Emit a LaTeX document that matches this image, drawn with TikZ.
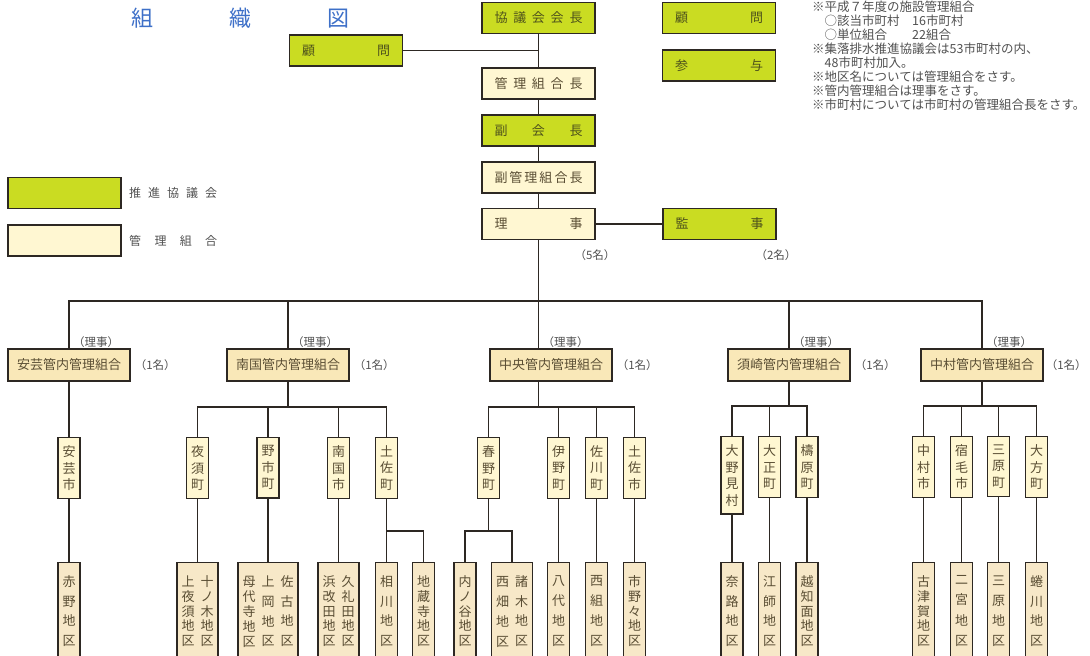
\documentclass[tikz,border=0pt]{standalone}
\usepackage{fontspec}
\setmainfont{Noto Sans CJK JP}
\usepackage{tikz}
\usetikzlibrary{positioning}

\definecolor{kyogreen}{RGB}{202,220,34}
\definecolor{kanricream}{RGB}{255,247,210}
\definecolor{kanritan}{RGB}{249,232,184}
\definecolor{chikutan}{RGB}{247,232,200}
\definecolor{boxline}{RGB}{45,40,35}
\definecolor{boxtext}{RGB}{90,78,52}
\definecolor{greentext}{RGB}{78,82,28}
\definecolor{titleblue}{RGB}{62,112,200}
\definecolor{notegray}{RGB}{80,80,80}

% spread the characters over a fixed width
\def\sprd#1{#1\sprdB}
\def\sprdB#1{\ifx\relax#1\else\hfill#1\expandafter\sprdB\fi}
\newcommand{\spread}[2]{\makebox[#1][s]{\sprd#2\relax}}

% one column of vertical text
\def\tcolA#1{#1\tcolB}
\def\tcolB#1{\ifx\relax#1\else\par\vfill#1\expandafter\tcolB\fi}
\newcommand{\tcol}[1]{\parbox[t][70pt][s]{13pt}{\centering\baselineskip=13pt\lineskip=0pt\lineskiplimit=-20pt\tcolA#1\relax}}

\begin{document}
\begin{tikzpicture}[x=1pt, y=-1pt,
  every node/.style={font=\fontsize{13}{13}\selectfont},
  yaku/.style={draw=boxline, line width=1.3pt, minimum width=113pt, minimum height=31pt, inner sep=0pt},
  kyo/.style={yaku, fill=kyogreen, text=greentext},
  kanri/.style={yaku, fill=kanricream, text=boxtext},
  kannai/.style={draw=boxline, line width=1.3pt, fill=kanritan, text=boxtext, minimum height=32pt, inner xsep=9pt},
  cho/.style={draw=boxline, line width=1.2pt, fill=kanricream, text=boxtext, anchor=north,
    text width=13pt, align=center, inner xsep=4.5pt, inner ysep=8pt, font=\fontsize{13}{16.5}\selectfont},
  chiku/.style={draw=boxline, line width=1.2pt, fill=chikutan, text=boxtext, anchor=north,
    inner xsep=4.5pt, inner ysep=13pt},
  conn/.style={draw=boxline, line width=1.3pt},
  ninzu/.style={text=notegray, font=\fontsize{11.5}{11.5}\selectfont, inner sep=1pt},
  legtext/.style={text=notegray, font=\fontsize{12}{12}\selectfont},
  zutitle/.style={text=titleblue, font=\fontsize{22}{22}\selectfont},
  note/.style={text=notegray, align=left, inner sep=0pt, font=\fontsize{12.5}{14}\selectfont}]
  \useasboundingbox (0,0) rectangle (1090,656);
  \clip (0,0) rectangle (1090,656);

  % --- title, notes, legend ---
  \node[zutitle] (title) at (240,18) {\spread{218pt}{組織図}};
  \node[note, anchor=north west] (notes) at (812,1) {%
    ※平成７年度の施設管理組合\\
    　○該当市町村　16市町村\\
    　○単位組合　　22組合\\
    ※集落排水推進協議会は53市町村の内、\\
    　48市町村加入。\\
    ※地区名については管理組合をさす。\\
    ※管内管理組合は理事をさす。\\
    ※市町村については市町村の管理組合長をさす。};
  \node[kyo] (lgkyo) at (64.5,193) {};
  \node[legtext, right=4pt of lgkyo] (lgkyotxt) {\spread{88pt}{推進協議会}};
  \node[kanri] (lgkanri) at (64.5,240.5) {};
  \node[legtext, right=4pt of lgkanri] (lgkanritxt) {\spread{88pt}{管理組合}};

  % --- council and officers ---
  \node[kyo] (kaicho) at (538.5,18) {\spread{88pt}{協議会会長}};
  \node[kyo] (komonL) at (346,50.5) {\spread{88pt}{顧問}};
  \node[kyo] (komonR) at (719,18) {\spread{88pt}{顧問}};
  \node[kyo] (sanyo) at (719,65.5) {\spread{88pt}{参与}};
  \node[kanri] (kumicho) at (538.5,83.5) {\spread{88pt}{管理組合長}};
  \node[kyo] (fukukai) at (538.5,130.5) {\spread{88pt}{副会長}};
  \node[kanri] (fukukumi) at (538.5,177.5) {\spread{88pt}{副管理組合長}};
  \node[kanri] (riji) at (538.5,224) {\spread{88pt}{理事}};
  \node[kyo] (kanji) at (719.5,224) {\spread{88pt}{監事}};
  \node[ninzu] (rijinin) at (595,255) {（5名）};
  \node[ninzu] (kanjinin) at (776,255) {（2名）};
  \coordinate (bus) at (538.5,301);
  \draw[conn] (kaicho) -- (kumicho) -- (fukukai) -- (fukukumi) -- (riji) -- (bus);
  \draw[conn] (komonL.east) -- (komonL.east -| kaicho.south);
  \draw[conn] (riji.east) -- (kanji.west);

  % --- district unions ---
  \node[kannai] (aki) at (69,365) {安芸管内管理組合};
  \node[kannai] (nankoku) at (288,365) {南国管内管理組合};
  \node[kannai] (chuo) at (551,365) {中央管内管理組合};
  \node[kannai] (susaki) at (789,365) {須崎管内管理組合};
  \node[kannai] (nakamura) at (982,365) {中村管内管理組合};
  \draw[conn] (aki.north) |- (bus) -| (nakamura.north);
  \draw[conn] (nankoku.north) -- (nankoku.north |- bus);
  \draw[conn] (susaki.north) -- (susaki.north |- bus);
  \draw[conn] (bus) -- (bus |- chuo.north);
  \node[ninzu, anchor=south west] (akiriji) at ([xshift=3pt]aki.north) {（理事）};
  \node[ninzu, anchor=south west] (nankokuriji) at ([xshift=3pt]nankoku.north) {（理事）};
  \node[ninzu, anchor=south west] (chuoriji) at ([xshift=3pt]bus |- chuo.north) {（理事）};
  \node[ninzu, anchor=south west] (susakiriji) at ([xshift=3pt]susaki.north) {（理事）};
  \node[ninzu, anchor=south west] (nakamurariji) at ([xshift=3pt]nakamura.north) {（理事）};
  \node[ninzu, anchor=west] (akinin) at ([xshift=3pt]aki.east) {（1名）};
  \node[ninzu, anchor=west] (nankokunin) at ([xshift=3pt]nankoku.east) {（1名）};
  \node[ninzu, anchor=west] (chuonin) at ([xshift=3pt]chuo.east) {（1名）};
  \node[ninzu, anchor=west] (susakinin) at ([xshift=3pt]susaki.east) {（1名）};
  \node[ninzu, anchor=west] (nakamuranin) at ([xshift=1pt]nakamura.east) {（1名）};

  % --- Aki ---
  \node[cho] (akishi) at (69,437) {安\\芸\\市};
  \node[chiku] (akano) at (69,562) {\tcol{赤野地区}};
  \draw[conn] (aki) -- (akishi) -- (akano);

  % --- Nankoku ---
  \coordinate (nkbus) at (288,407);
  \node[cho] (yasu) at (197.5,437) {夜\\須\\町};
  \node[cho] (noichi) at (268,437) {野\\市\\町};
  \node[cho] (nankokushi) at (338.5,437) {南\\国\\市};
  \node[cho] (tosacho) at (386.5,437) {土\\佐\\町};
  \draw[conn] (nankoku) -- (nkbus);
  \draw[conn] (yasu.north) |- (nkbus) -| (tosacho.north);
  \draw[conn] (noichi.north) -- (noichi.north |- nkbus);
  \draw[conn] (nankokushi.north) -- (nankokushi.north |- nkbus);
  \node[chiku] (yasuD) at (197.5,562) {\tcol{上夜須地区}\hspace{6pt}\tcol{十ノ木地区}};
  \node[chiku] (noichiD) at (268,562) {\tcol{母代寺地区}\hspace{6pt}\tcol{上岡地区}\hspace{6pt}\tcol{佐古地区}};
  \node[chiku] (nankokuD) at (338.5,562) {\tcol{浜改田地区}\hspace{6pt}\tcol{久礼田地区}};
  \node[chiku] (aikawa) at (386.5,562) {\tcol{相川地区}};
  \node[chiku] (jizoji) at (423.5,562) {\tcol{地蔵寺地区}};
  \coordinate (tosabr) at (386.5,531);
  \draw[conn] (yasu) -- (yasuD);
  \draw[conn] (noichi) -- (noichiD);
  \draw[conn] (nankokushi) -- (nankokuD);
  \draw[conn] (tosacho) -- (aikawa);
  \draw[conn] (tosabr) -| (jizoji.north);

  % --- Chuo ---
  \coordinate (cbus) at (538.5,407);
  \node[cho] (haruno) at (488.5,437) {春\\野\\町};
  \node[cho] (ino) at (558.5,437) {伊\\野\\町};
  \node[cho] (sakawa) at (596.5,437) {佐\\川\\町};
  \node[cho] (tosashi) at (634.5,437) {土\\佐\\市};
  \draw[conn] (bus |- chuo.south) -- (cbus);
  \draw[conn] (haruno.north) |- (cbus) -| (tosashi.north);
  \draw[conn] (ino.north) -- (ino.north |- cbus);
  \draw[conn] (sakawa.north) -- (sakawa.north |- cbus);
  \coordinate (harubr) at (488.5,531);
  \node[chiku] (uchinotani) at (465,562) {\tcol{内ノ谷地区}};
  \node[chiku] (morogi) at (512,562) {\tcol{西畑地区}\hspace{6pt}\tcol{諸木地区}};
  \node[chiku] (yashiro) at (558.5,562) {\tcol{八代地区}};
  \node[chiku] (nishigumi) at (596.5,562) {\tcol{西組地区}};
  \node[chiku] (ichinono) at (634.5,562) {\tcol{市野々地区}};
  \draw[conn] (haruno) -- (harubr);
  \draw[conn] (uchinotani.north) |- (harubr) -| (morogi.north);
  \draw[conn] (ino) -- (yashiro);
  \draw[conn] (sakawa) -- (nishigumi);
  \draw[conn] (tosashi) -- (ichinono);

  % --- Susaki ---
  \coordinate (sbus) at (789,406);
  \node[cho] (onomi) at (732,436) {大\\野\\見\\村};
  \node[cho] (taisho) at (769.5,436) {大\\正\\町};
  \node[cho] (yusuhara) at (807,436) {檮\\原\\町};
  \draw[conn] (susaki) -- (sbus);
  \draw[conn] (onomi.north) |- (sbus) -| (yusuhara.north);
  \draw[conn] (taisho.north) -- (taisho.north |- sbus);
  \node[chiku] (naro) at (732,562) {\tcol{奈路地区}};
  \node[chiku] (eshi) at (769.5,562) {\tcol{江師地区}};
  \node[chiku] (ochimen) at (807,562) {\tcol{越知面地区}};
  \draw[conn] (onomi) -- (naro);
  \draw[conn] (taisho) -- (eshi);
  \draw[conn] (yusuhara) -- (ochimen);

  % --- Nakamura ---
  \coordinate (nmbus) at (982,406);
  \node[cho] (nakamurashi) at (923.5,436) {中\\村\\市};
  \node[cho] (sukumo) at (961.5,436) {宿\\毛\\市};
  \node[cho] (miharacho) at (998.5,436) {三\\原\\町};
  \node[cho] (ogata) at (1036.5,436) {大\\方\\町};
  \draw[conn] (nakamura) -- (nmbus);
  \draw[conn] (nakamurashi.north) |- (nmbus) -| (ogata.north);
  \draw[conn] (sukumo.north) -- (sukumo.north |- nmbus);
  \draw[conn] (miharacho.north) -- (miharacho.north |- nmbus);
  \node[chiku] (kotsuka) at (923.5,562) {\tcol{古津賀地区}};
  \node[chiku] (ninomiya) at (961.5,562) {\tcol{二宮地区}};
  \node[chiku] (mihara) at (998.5,562) {\tcol{三原地区}};
  \node[chiku] (ninagawa) at (1036.5,562) {\tcol{蜷川地区}};
  \draw[conn] (nakamurashi) -- (kotsuka);
  \draw[conn] (sukumo) -- (ninomiya);
  \draw[conn] (miharacho) -- (mihara);
  \draw[conn] (ogata) -- (ninagawa);
\end{tikzpicture}
\end{document}
